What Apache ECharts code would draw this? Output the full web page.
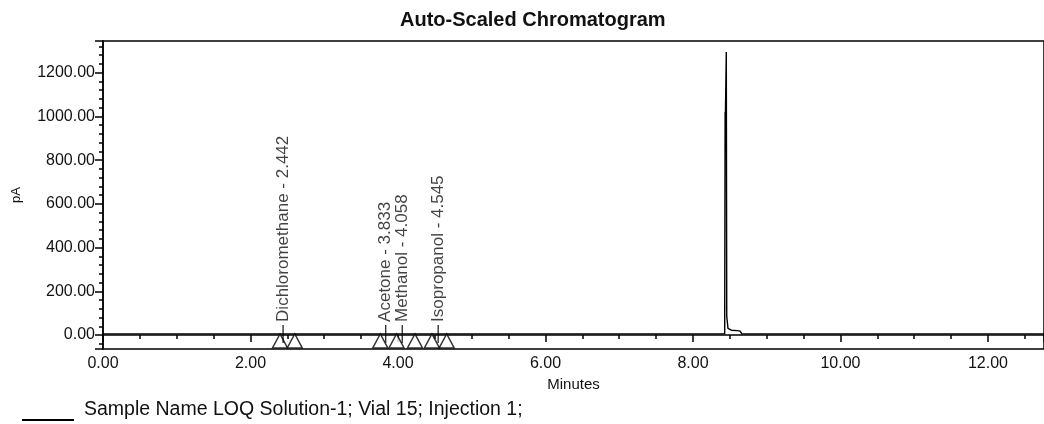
<!DOCTYPE html>
<html>
<head>
<meta charset="utf-8">
<script src="https://cdn.jsdelivr.net/npm/echarts@6/dist/echarts.min.js"></script>
<style>
  html, body { margin: 0; padding: 0; background: #fff; }
  #chart { width: 1044px; height: 424px; }
</style>
</head>
<body>
<div id="chart"></div>
<script>
// detector trace (minutes, pA)
const traceTime = [0, 8.43, 8.434, 8.436, 8.44, 8.452, 8.458, 8.468, 8.475, 8.52, 8.6, 8.64, 8.66, 12.76];
const traceSignal = [5, 5, 8, 1020, 1010, 1295, 85, 80, 30, 22, 20, 18, 6, 5];

// named peaks
const peakNames = ['Dichloromethane', 'Acetone', 'Methanol', 'Isopropanol'];
const peakTimes = [2.442, 3.833, 4.058, 4.545];

// integration boundary markers (triangles)
const markTimes = [2.40, 2.60, 3.76, 3.98, 4.23, 4.46, 4.66];

const xTicks = [0, 2, 4, 6, 8, 10, 12];
const sampleName = 'Sample Name LOQ Solution-1; Vial 15; Injection 1;';

const baseline = 5;
const font = "'Liberation Sans', Arial, sans-serif";

const option = {
  animation: false,
  textStyle: { fontFamily: font },
  title: {
    text: 'Auto-Scaled Chromatogram',
    left: 400,
    top: 10,
    padding: 0,
    textStyle: { fontSize: 20, fontWeight: 'bold', color: '#111', fontFamily: font }
  },
  legend: {
    data: [sampleName],
    left: 22,
    top: 400,
    padding: 0,
    icon: 'rect',
    itemWidth: 52,
    itemHeight: 2,
    formatter: name => name + '\n',
    textStyle: { fontSize: 19.5, lineHeight: 20, color: '#111', padding: [0, 0, 0, 5] }
  },
  grid: {
    left: 103,
    top: 41,
    right: -2,
    bottom: 75,
    show: true,
    borderColor: '#000',
    borderWidth: 1.5
  },
  xAxis: {
    type: 'value',
    min: xTicks[0],
    max: 12.76,
    interval: 2,
    name: 'Minutes',
    nameLocation: 'middle',
    nameGap: 26,
    nameTextStyle: { fontSize: 15, color: '#111' },
    axisLine: { lineStyle: { color: '#000', width: 1.5 } },
    axisTick: { length: 7, lineStyle: { color: '#000', width: 1.5 } },
    minorTick: { show: true, splitNumber: 4, length: 4, lineStyle: { color: '#000', width: 1.5 } },
    splitLine: { show: false },
    axisLabel: {
      fontSize: 16,
      color: '#111',
      margin: 7,
      showMaxLabel: false,
      formatter: v => xTicks.includes(v) ? v.toFixed(2) : ''
    }
  },
  yAxis: {
    type: 'value',
    min: -64,
    max: 1345,
    splitNumber: 7,
    name: 'pA',
    nameLocation: 'middle',
    nameGap: 80,
    nameRotate: 90,
    nameTextStyle: { fontSize: 13, color: '#111' },
    axisLine: { lineStyle: { color: '#000', width: 1.5 } },
    axisTick: { length: 8, lineStyle: { color: '#000', width: 1.5 } },
    minorTick: { show: true, splitNumber: 5, length: 4, lineStyle: { color: '#000', width: 1.5 } },
    splitLine: { show: false },
    axisLabel: {
      fontSize: 16,
      color: '#111',
      margin: 8,
      showMinLabel: false,
      showMaxLabel: false,
      formatter: v => v.toFixed(2)
    }
  },
  series: [
    {
      name: sampleName,
      type: 'line',
      data: traceTime.map((t, i) => [t, traceSignal[i]]),
      symbol: 'none',
      lineStyle: { color: '#000', width: 1.4 },
      itemStyle: { color: '#000' },
      z: 3
    },
    {
      name: 'marks',
      type: 'scatter',
      data: markTimes.map(t => [t, baseline]),
      symbol: 'triangle',
      symbolSize: [15, 14],
      symbolOffset: [0, 7],
      itemStyle: { color: '#fff', borderColor: '#000', borderWidth: 1.4 },
      silent: true,
      z: 4
    },
    {
      name: 'peaks',
      type: 'scatter',
      data: peakTimes.map((t, i) => ({ value: [t, baseline], name: peakNames[i] + ' - ' + t.toFixed(3) })),
      symbol: 'rect',
      symbolSize: [1.4, 18],
      itemStyle: { color: '#000' },
      label: {
        show: true,
        position: 'top',
        distance: 3,
        rotate: 90,
        align: 'left',
        verticalAlign: 'middle',
        fontSize: 17,
        color: '#111',
        formatter: p => p.name
      },
      silent: true,
      z: 5
    }
  ]
};

const chart = echarts.init(document.getElementById('chart'));
chart.setOption(option);
</script>
</body>
</html>
